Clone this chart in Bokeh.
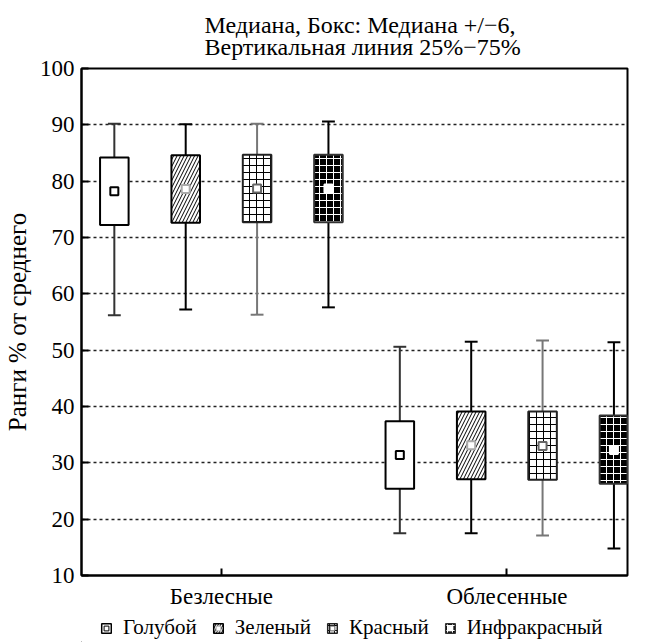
from bokeh.plotting import figure
from bokeh.layouts import column
from bokeh.models import (Range1d, FixedTicker, Legend, LegendItem, Title,
                          ColumnDataSource)
from bokeh.embed import file_html
from bokeh.resources import INLINE

# ---- data -------------------------------------------------------------
groups = ["Безлесные", "Облесенные"]
series = ["Голубой", "Зеленый", "Красный", "Инфракрасный"]

# per series: [Безлесные, Облесенные]
medians = {
    "Голубой":      [78.2, 31.4],
    "Зеленый":      [78.6, 33.1],
    "Красный":      [78.7, 33.0],
    "Инфракрасный": [78.7, 32.3],
}
box_low = {
    "Голубой":      [72.2, 25.4],
    "Зеленый":      [72.6, 27.1],
    "Красный":      [72.7, 27.0],
    "Инфракрасный": [72.7, 26.3],
}
box_high = {
    "Голубой":      [84.2, 37.4],
    "Зеленый":      [84.6, 39.1],
    "Красный":      [84.7, 39.1],
    "Инфракрасный": [84.7, 38.4],
}
whisk_low = {
    "Голубой":      [56.2, 17.5],
    "Зеленый":      [57.2, 17.5],
    "Красный":      [56.3, 17.1],
    "Инфракрасный": [57.6, 14.8],
}
whisk_high = {
    "Голубой":      [90.2, 50.6],
    "Зеленый":      [90.1, 51.5],
    "Красный":      [90.2, 51.7],
    "Инфракрасный": [90.6, 51.4],
}
y_ticks = [10, 20, 30, 40, 50, 60, 70, 80, 90, 100]
title_text = "Медиана, Бокс: Медиана +/−6,\nВертикальная линия 25%−75%"
y_label = "Ранги % от среднего"

# ---- styles -----------------------------------------------------------
FONT = "Liberation Serif"
styles = {
    "Голубой":      dict(fill="white", hatch=" ", hcol="black", box_line="black",
                         whisk="#333333", mline="black", mfill="white"),
    "Зеленый":      dict(fill="white", hatch="/", hcol="black", box_line="black",
                         whisk="black", mline="#aaaaaa", mfill="white"),
    "Красный":      dict(fill="white", hatch="+", hcol="black", box_line="#222222",
                         whisk="#777777", mline="#666666", mfill="white"),
    "Инфракрасный": dict(fill="black", hatch="+", hcol="white", box_line="#333333",
                         whisk="black", mline="white", mfill="white"),
}

W = 649
LEG_H = 30
MAIN_H = 642 - LEG_H

# ---- main plot --------------------------------------------------------
n_series = len(series)
group_centers = [g * n_series + (n_series - 1) / 2 for g in range(len(groups))]

p = figure(width=W, height=MAIN_H, output_backend="svg", toolbar_location=None,
           x_range=Range1d(-0.46, 7.19), y_range=Range1d(10, 100),
           min_border_left=79, min_border_right=22, min_border_top=68,
           min_border_bottom=37)
p.background_fill_color = "white"
p.border_fill_color = "white"
p.outline_line_color = "black"
p.outline_line_width = 2

BW = 0.40
CAP = 0.18
for si, s in enumerate(series):
    st = styles[s]
    xs = [g * n_series + si for g in range(len(groups))]
    src = ColumnDataSource(dict(
        x=xs, med=medians[s], lo=box_low[s], hi=box_high[s],
        wl=whisk_low[s], wh=whisk_high[s],
        xl=[x - CAP / 2 for x in xs], xr=[x + CAP / 2 for x in xs]))
    # whiskers
    p.segment(x0="x", y0="wl", x1="x", y1="lo", source=src,
              line_color=st["whisk"], line_width=2)
    p.segment(x0="x", y0="hi", x1="x", y1="wh", source=src,
              line_color=st["whisk"], line_width=2)
    p.segment(x0="xl", y0="wl", x1="xr", y1="wl", source=src,
              line_color=st["whisk"], line_width=2)
    p.segment(x0="xl", y0="wh", x1="xr", y1="wh", source=src,
              line_color=st["whisk"], line_width=2)
    # box
    p.vbar(x="x", bottom="lo", top="hi", width=BW, source=src,
           fill_color=st["fill"], line_color=st["box_line"], line_width=2,
           hatch_pattern=st["hatch"], hatch_color=st["hcol"],
           hatch_scale=7, hatch_weight=1)
    # median marker
    p.scatter(x="x", y="med", source=src, marker="square", size=8,
              fill_color=st["mfill"], line_color=st["mline"], line_width=2)

# axes
p.xaxis.ticker = FixedTicker(ticks=group_centers)
p.xaxis.major_label_overrides = {c: g for c, g in zip(group_centers, groups)}
p.yaxis.ticker = FixedTicker(ticks=y_ticks)
for ax in (p.xaxis[0], p.yaxis[0]):
    ax.axis_line_width = 2
    ax.axis_line_color = "black"
    ax.major_tick_in = 7
    ax.major_tick_out = 0
    ax.major_tick_line_width = 2
    ax.minor_tick_line_color = None
    ax.major_label_text_font = FONT
    ax.major_label_text_color = "black"
p.yaxis.major_label_text_font_size = "23px"
p.yaxis.major_label_standoff = 7
p.xaxis.major_label_text_font_size = "23px"
p.xaxis.major_label_standoff = 8
p.yaxis.axis_label = y_label
p.yaxis.axis_label_text_font = FONT
p.yaxis.axis_label_text_font_size = "25px"
p.yaxis.axis_label_text_font_style = "normal"
p.yaxis.axis_label_text_color = "black"
p.yaxis.axis_label_standoff = 6

p.xgrid.grid_line_color = None
p.ygrid.ticker = FixedTicker(ticks=y_ticks[1:-1])
p.ygrid.grid_line_color = "#222222"
p.ygrid.grid_line_width = 1.3
p.ygrid.grid_line_dash = "3 3"

# title (two lines, left-aligned block)
p.title = Title(text=title_text, text_font=FONT, text_font_size="24px",
                text_font_style="normal", text_color="black", align="left",
                offset=123, standoff=17, text_line_height=0.83)

# ---- legend strip -----------------------------------------------------
lf = figure(width=W, height=LEG_H, output_backend="svg", toolbar_location=None,
            x_range=Range1d(0, 1), y_range=Range1d(0, 1),
            x_axis_location=None, y_axis_location=None, min_border=0)
lf.grid.grid_line_color = None
lf.outline_line_color = None
lf.background_fill_color = "white"
lf.border_fill_color = "white"
items = []
for s in series:
    st = styles[s]
    # a single point placed outside the visible range: only its legend shows
    esrc = ColumnDataSource(dict(x=[-10], lo=[-10], hi=[-9], med=[-10]))
    rb = lf.vbar(x="x", bottom="lo", top="hi", width=0.1, source=esrc,
                 fill_color=st["fill"], line_color=st["box_line"], line_width=1.5,
                 hatch_pattern=st["hatch"], hatch_color=st["hcol"],
                 hatch_scale=5, hatch_weight=1)
    rm = lf.scatter(x="x", y="med", source=esrc, marker="square", size=4,
                    fill_color=st["mfill"], line_color=st["mline"], line_width=1)
    items.append(LegendItem(label=s, renderers=[rb, rm]))

legend = Legend(items=items, orientation="horizontal", location=(19, 2),
                label_text_font=FONT, label_text_font_size="21px",
                label_text_color="black",
                glyph_width=12, glyph_height=12, spacing=15,
                label_standoff=11, padding=0, margin=0,
                border_line_color=None, background_fill_alpha=0)
lf.add_layout(legend, "center")

layout = column(p, lf, spacing=0)
open("out.html", "w").write(file_html(layout, INLINE))
